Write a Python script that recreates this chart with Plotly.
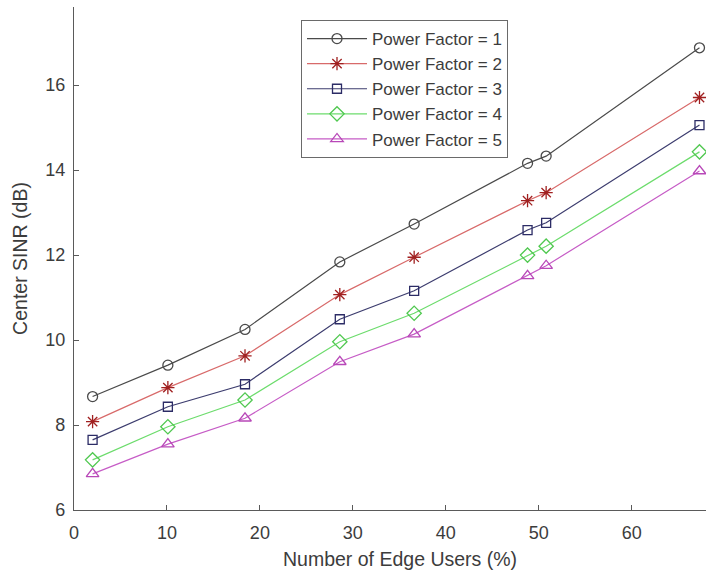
import plotly.graph_objects as go

edge_users = [2.0, 10.1, 18.4, 28.6, 36.6, 48.8, 50.8, 67.3]
pf1 = [8.67, 9.41, 10.25, 11.84, 12.73, 14.16, 14.33, 16.88]
pf2 = [8.08, 8.88, 9.63, 11.07, 11.95, 13.28, 13.47, 15.71]
pf3 = [7.65, 8.43, 8.96, 10.49, 11.16, 12.59, 12.76, 15.06]
pf4 = [7.18, 7.96, 8.59, 9.96, 10.63, 12.00, 12.21, 14.43]
pf5 = [6.85, 7.55, 8.16, 9.49, 10.14, 11.51, 11.75, 13.98]
names = ["Power Factor = 1", "Power Factor = 2", "Power Factor = 3",
         "Power Factor = 4", "Power Factor = 5"]
x_ticks = [0, 10, 20, 30, 40, 50, 60]
y_ticks = [6, 8, 10, 12, 14, 16]

series = [pf1, pf2, pf3, pf4, pf5]
line_colors = ["#4a4a4a", "#d86a6a", "#3c3c6e", "#6cdc6c", "#c65cc6"]
marker_colors = ["#4a4a4a", "#a02020", "#2c2c66", "#50c850", "#b848b8"]
symbols = ["circle-open", "asterisk-open", "square-open", "diamond-open", "triangle-up-open"]
sizes = [10, 11, 9, 11, 11]

fig = go.Figure()
for vals, name, lc, mc, sym, sz in zip(series, names, line_colors, marker_colors, symbols, sizes):
    fig.add_trace(go.Scatter(
        x=edge_users, y=vals, name=name, mode="lines+markers",
        line=dict(color=lc, width=1.2),
        marker=dict(symbol=sym, size=sz, color=mc, line=dict(color=mc, width=1.3)),
        cliponaxis=False,
    ))

font_family = "Liberation Sans, Arial, sans-serif"
axis_color = "#5a5a5a"
text_color = "#3c3c3c"

fig.update_layout(
    width=706, height=577,
    margin=dict(l=74, r=0, t=7, b=67),
    paper_bgcolor="white", plot_bgcolor="white",
    font=dict(family=font_family, color=text_color, size=18),
    showlegend=True,
    legend=dict(
        x=(301 - 74) / 632, y=(510 - 20) / 503, xanchor="left", yanchor="top",
        bordercolor="#6a6a6a", borderwidth=1, bgcolor="white",
        font=dict(size=17, color=text_color, family=font_family),
        itemwidth=60, tracegroupgap=0,
    ),
    xaxis=dict(
        range=[0, 68], tickvals=x_ticks, ticks="inside", ticklen=5,
        tickcolor=axis_color, showline=True, linecolor=axis_color, linewidth=1.3,
        showgrid=False, zeroline=False, mirror=False,
        tickfont=dict(size=18, color=text_color),
        ticklabelstandoff=6,
    ),
    yaxis=dict(
        range=[6, 17.84], tickvals=y_ticks, ticks="inside", ticklen=5,
        tickcolor=axis_color, showline=True, linecolor=axis_color, linewidth=1.3,
        showgrid=False, zeroline=False, mirror=False,
        tickfont=dict(size=18, color=text_color),
        title=dict(text="Center SINR (dB)", font=dict(size=19.5, color=text_color), standoff=12),
        ticklabelstandoff=4,
    ),
    annotations=[dict(
        text="Number of Edge Users (%)", xref="paper", yref="paper",
        x=(400 - 74) / 632, y=0, yshift=-36, xanchor="center", yanchor="top",
        showarrow=False, font=dict(size=19.5, color=text_color, family=font_family),
    )],
)

fig.write_html(
    "out.html",
    config={"displayModeBar": False},
    post_script="document.body.style.margin='0';document.body.style.overflow='hidden';",
)
